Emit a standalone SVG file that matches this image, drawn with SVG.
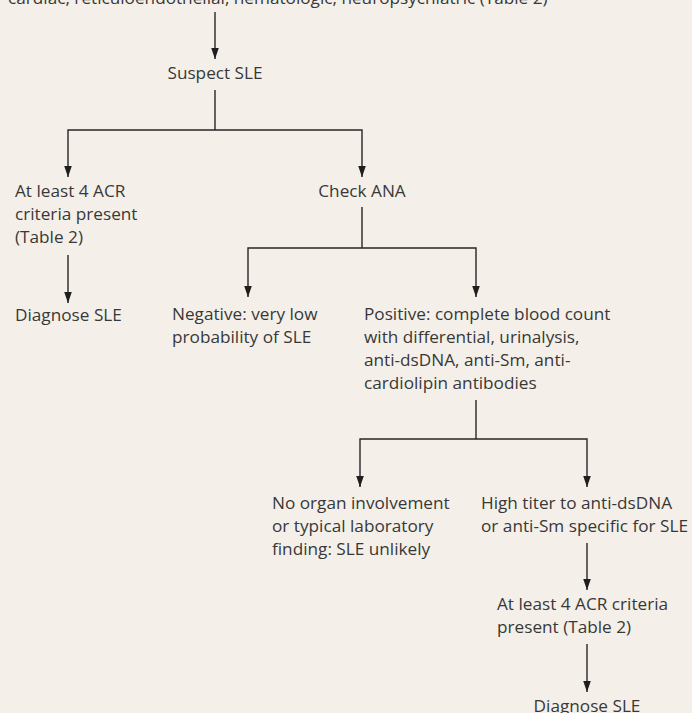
<svg xmlns="http://www.w3.org/2000/svg" width="692" height="713" viewBox="0 0 692 713">
<style>
text{font-family:"Open Sans","Noto Sans","DejaVu Sans",sans-serif;font-size:17.2px;fill:#383838}
.c{stroke:#262626;stroke-width:1.4;fill:none}
.a{marker-end:url(#ah)}
</style>
<defs>
<marker id="ah" markerUnits="userSpaceOnUse" markerWidth="11" markerHeight="16" refX="16" refY="5.5" orient="auto" viewBox="0 0 16 11">
<path d="M0,0 L16,5.5 L0,11 z" fill="#1e1e1e"/>
</marker>
</defs>
<rect width="692" height="713" fill="#f4f0e9"/>
<g id="connectors">
<line class="c a" x1="215" y1="12" x2="215" y2="59"/>
<polyline class="c" points="215,90 215,130"/>
<polyline class="c a" points="215,130 68,130 68,177"/>
<polyline class="c a" points="215,130 362,130 362,177"/>
<line class="c a" x1="68" y1="255" x2="68" y2="303"/>
<polyline class="c" points="362,207 362,248"/>
<polyline class="c a" points="362,248 248,248 248,297"/>
<polyline class="c a" points="362,248 476,248 476,297"/>
<polyline class="c" points="476,400 476,439"/>
<polyline class="c a" points="476,439 360,439 360,487"/>
<polyline class="c a" points="476,439 587,439 587,487"/>
<line class="c a" x1="587" y1="543" x2="587" y2="590"/>
<line class="c a" x1="587" y1="644" x2="587" y2="692"/>
</g>
<g id="n0"><text x="8" y="4">cardiac, reticuloendothelial, hematologic, neuropsychiatric (Table 2)</text></g>
<g id="n1"><text x="215" y="79" text-anchor="middle">Suspect SLE</text></g>
<g id="n2"><text x="15" y="197">At least 4 ACR</text><text x="15" y="220">criteria present</text><text x="15" y="243">(Table 2)</text></g>
<g id="n3"><text x="362" y="197" text-anchor="middle">Check ANA</text></g>
<g id="n4"><text x="15" y="321">Diagnose SLE</text></g>
<g id="n5"><text x="172" y="320">Negative: very low</text><text x="172" y="343">probability of SLE</text></g>
<g id="n6"><text x="364" y="320">Positive: complete blood count</text><text x="364" y="343">with differential, urinalysis,</text><text x="364" y="366">anti-dsDNA, anti-Sm, anti-</text><text x="364" y="389">cardiolipin antibodies</text></g>
<g id="n7"><text x="272" y="509">No organ involvement</text><text x="272" y="532">or typical laboratory</text><text x="272" y="555">finding: SLE unlikely</text></g>
<g id="n8"><text x="481" y="509">High titer to anti-dsDNA</text><text x="481" y="532">or anti-Sm specific for SLE</text></g>
<g id="n9"><text x="497" y="610">At least 4 ACR criteria</text><text x="497" y="633">present (Table 2)</text></g>
<g id="n10"><text x="587" y="712" text-anchor="middle">Diagnose SLE</text></g>
</svg>
